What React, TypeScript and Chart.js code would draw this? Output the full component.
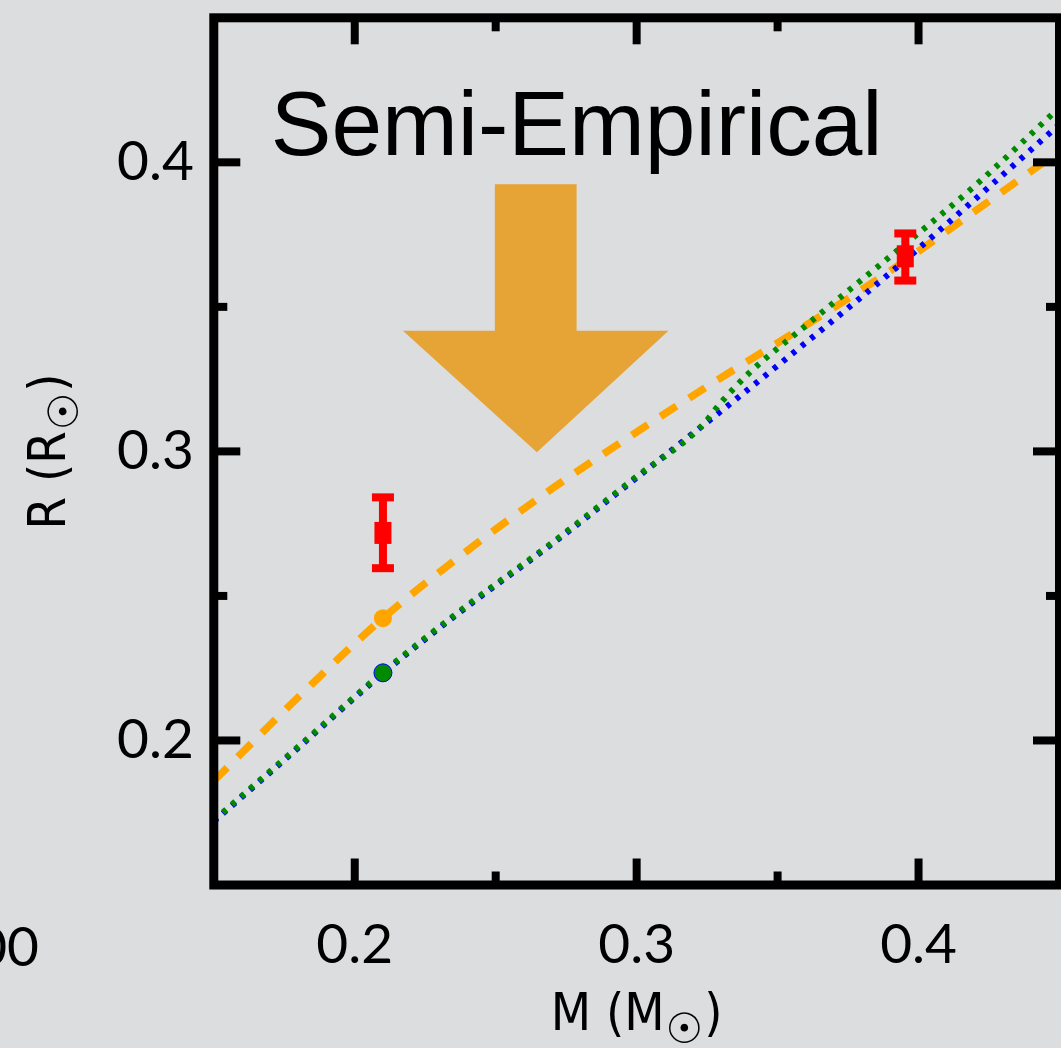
import React, { useEffect, useRef } from "react";
import { Chart, registerables } from "chart.js";

Chart.register(...registerables);

// ---- axis ranges & ticks ----
const massRange = [0.15, 0.45];
const radiusRange = [0.15, 0.45];
const xMajorTicks = [0.2, 0.3, 0.4];
const xMinorTicks = [0.25, 0.35];
const yMajorTicks = [0.2, 0.3, 0.4];
const yMinorTicks = [0.25, 0.35];

// ---- model curves ----
const orangeMass = [0.15, 0.18, 0.21, 0.24, 0.27, 0.30, 0.33, 0.36, 0.39, 0.42, 0.45];
const orangeRadius = [0.1860, 0.2150, 0.2423, 0.2657, 0.2871, 0.3067, 0.3255, 0.3436, 0.3625, 0.3831, 0.4039];

const blueMass = [0.15, 0.18, 0.21, 0.24, 0.27, 0.30, 0.33, 0.36, 0.39, 0.42, 0.45];
const blueRadius = [0.1720, 0.1975, 0.2232, 0.2464, 0.2680, 0.2909, 0.3140, 0.3376, 0.3618, 0.3872, 0.4131];

const greenMass = [0.15, 0.18, 0.21, 0.24, 0.27, 0.30, 0.3225, 0.33, 0.34, 0.36, 0.39, 0.42, 0.45];
const greenRadius = [0.1724, 0.1979, 0.2236, 0.2468, 0.2684, 0.2913, 0.3082, 0.3170, 0.3272, 0.3435, 0.3675, 0.3919, 0.4190];

// ---- model points ----
const modelPointMass = [0.21];
const orangePointRadius = [0.2423];
const greenPointRadius = [0.2234];

// ---- observed points with error bars ----
const obsMass = [0.21, 0.3953];
const obsRadius = [0.2718, 0.3675];
const obsErrUp = [0.0123, 0.0079];
const obsErrDown = [0.0122, 0.0084];

// ---- big arrow (data coordinates) ----
const arrowMass = [0.2497, 0.2787, 0.2787, 0.3113, 0.2646, 0.2171, 0.2497];
const arrowRadius = [0.3924, 0.3924, 0.3417, 0.3417, 0.2997, 0.3417, 0.3417];

// ---- texts ----
const titleText = "Semi-Empirical";
const titleMass = 0.2787;
const titleRadius = 0.4024;
const xTitleParts = ["M (M", "\u2609", ")"];
const yTitleParts = ["R (R", "\u2609", ")"];
const strayLabel = "00";

const BG = "rgb(220,221,223)";
const TICK_FONT = 'Lato, "DejaVu Sans", sans-serif';
const TITLE_FONT = '"Liberation Sans Narrow", "DejaVu Sans Condensed", Lato, sans-serif';

function drawAxisTitle(ctx: CanvasRenderingContext2D, parts: string[], cx: number, baseline: number) {
  const mainFont = `52px ${TITLE_FONT}`;
  const sunFont = `42px "DejaVu Sans", sans-serif`;
  ctx.font = mainFont;
  const w0 = ctx.measureText(parts[0]).width;
  const w2 = ctx.measureText(parts[2]).width;
  ctx.font = sunFont;
  const w1 = ctx.measureText(parts[1]).width;
  const total = w0 + w1 + w2 + 2;
  let x = cx - total / 2;
  ctx.textAlign = "left";
  ctx.textBaseline = "alphabetic";
  ctx.fillStyle = "#000";
  ctx.font = mainFont;
  ctx.fillText(parts[0], x, baseline);
  x += w0 + 1;
  ctx.font = sunFont;
  ctx.fillText(parts[1], x, baseline + 13);
  x += w1 + 1;
  ctx.font = mainFont;
  ctx.fillText(parts[2], x, baseline);
}

const decorPlugin = {
  id: "decor",
  beforeDraw(chart: any) {
    const ctx = chart.ctx;
    ctx.save();
    ctx.fillStyle = BG;
    ctx.fillRect(0, 0, chart.width, chart.height);
    ctx.restore();
  },
  beforeDatasetsDraw(chart: any) {
    const ctx = chart.ctx;
    const xs = chart.scales.x;
    const ys = chart.scales.y;
    ctx.save();
    ctx.fillStyle = "rgb(230,164,54)";
    ctx.beginPath();
    arrowMass.forEach((m, i) => {
      const px = xs.getPixelForValue(m);
      const py = ys.getPixelForValue(arrowRadius[i]);
      if (i === 0) ctx.moveTo(px, py);
      else ctx.lineTo(px, py);
    });
    ctx.closePath();
    ctx.fill();
    ctx.restore();
  },
  afterDatasetsDraw(chart: any) {
    const ctx = chart.ctx;
    const xs = chart.scales.x;
    const ys = chart.scales.y;
    const a = chart.chartArea;
    ctx.save();
    // error bars
    ctx.fillStyle = "#ff0000";
    obsMass.forEach((m, i) => {
      const px = xs.getPixelForValue(m);
      const pc = ys.getPixelForValue(obsRadius[i]);
      const pt = ys.getPixelForValue(obsRadius[i] + obsErrUp[i]);
      const pb = ys.getPixelForValue(obsRadius[i] - obsErrDown[i]);
      ctx.fillRect(px - 4, pt, 8, pb - pt);
      ctx.fillRect(px - 11, pt - 4, 22, 8);
      ctx.fillRect(px - 11, pb - 4, 22, 8);
      ctx.fillRect(px - 8.5, pc - 11, 17, 22);
    });
    // frame
    ctx.strokeStyle = "#000";
    ctx.lineWidth = 9;
    ctx.strokeRect(a.left, a.top, a.right - a.left, a.bottom - a.top);
    // ticks
    ctx.lineWidth = 8;
    ctx.lineCap = "butt";
    const tick = (x1: number, y1: number, x2: number, y2: number) => {
      ctx.beginPath();
      ctx.moveTo(x1, y1);
      ctx.lineTo(x2, y2);
      ctx.stroke();
    };
    const xt = (vals: number[], len: number) =>
      vals.forEach((v) => {
        const px = xs.getPixelForValue(v);
        tick(px, a.bottom, px, a.bottom - 4.5 - len);
        tick(px, a.top, px, a.top + 4.5 + len);
      });
    const yt = (vals: number[], len: number) =>
      vals.forEach((v) => {
        const py = ys.getPixelForValue(v);
        tick(a.left, py, a.left + 4.5 + len, py);
        tick(a.right, py, a.right - 4.5 - len, py);
      });
    xt(xMajorTicks, 22);
    xt(xMinorTicks, 9);
    yt(yMajorTicks, 22);
    yt(yMinorTicks, 9);
    ctx.restore();
  },
  afterDraw(chart: any) {
    const ctx = chart.ctx;
    const xs = chart.scales.x;
    const ys = chart.scales.y;
    const a = chart.chartArea;
    ctx.save();
    // title inside plot
    ctx.fillStyle = "#000";
    ctx.font = '91px "Liberation Sans", Arial, sans-serif';
    ctx.textAlign = "center";
    ctx.textBaseline = "alphabetic";
    ctx.fillText(titleText, xs.getPixelForValue(titleMass), ys.getPixelForValue(titleRadius));
    // x axis title
    drawAxisTitle(ctx, xTitleParts, (a.left + a.right) / 2, 1030);
    // y axis title (rotated)
    ctx.save();
    ctx.translate(65, (a.top + a.bottom) / 2);
    ctx.rotate(-Math.PI / 2);
    drawAxisTitle(ctx, yTitleParts, 0, 0);
    ctx.restore();
    // stray label from neighbouring panel
    ctx.font = `55px ${TICK_FONT}`;
    ctx.textAlign = "right";
    ctx.textBaseline = "alphabetic";
    ctx.fillStyle = "#000";
    ctx.fillText(strayLabel, 39, 966);
    ctx.restore();
  },
};

export default function App() {
  const ref = useRef<HTMLCanvasElement | null>(null);
  useEffect(() => {
    document.body.style.margin = "0";
    document.body.style.background = BG;
    const canvas = ref.current;
    if (!canvas) return;
    const toPts = (xsArr: number[], ysArr: number[]) => xsArr.map((m, i) => ({ x: m, y: ysArr[i] }));
    const chart = new Chart(canvas, {
      type: "line",
      data: {
        datasets: [
          {
            label: "green point",
            data: toPts(modelPointMass, greenPointRadius),
            showLine: false,
            pointRadius: 9,
            pointBackgroundColor: "#008a00",
            pointBorderColor: "#0000ff",
            pointBorderWidth: 1,
            order: 0,
          },
          {
            label: "orange point",
            data: toPts(modelPointMass, orangePointRadius),
            showLine: false,
            pointRadius: 9,
            pointBackgroundColor: "#ffa500",
            pointBorderColor: "#ffa500",
            pointBorderWidth: 0,
            order: 1,
          },
          {
            label: "green model",
            data: toPts(greenMass, greenRadius),
            borderColor: "#008a00",
            borderWidth: 6,
            borderDash: [4.5, 7.5],
            pointRadius: 0,
            cubicInterpolationMode: "monotone",
            fill: false,
            order: 2,
          },
          {
            label: "blue model",
            data: toPts(blueMass, blueRadius),
            borderColor: "#0000ff",
            borderWidth: 6,
            borderDash: [4.5, 7.5],
            pointRadius: 0,
            cubicInterpolationMode: "monotone",
            fill: false,
            order: 3,
          },
          {
            label: "orange model",
            data: toPts(orangeMass, orangeRadius),
            borderColor: "#ffa500",
            borderWidth: 7.5,
            borderDash: [19, 15],
            pointRadius: 0,
            cubicInterpolationMode: "monotone",
            fill: false,
            order: 4,
          },
        ],
      },
      options: {
        animation: false,
        responsive: false,
        maintainAspectRatio: false,
        devicePixelRatio: 1,
        layout: { autoPadding: false, padding: { top: 17.8, right: 1.5, left: 0, bottom: 0 } },
        plugins: { legend: { display: false }, tooltip: { enabled: false }, title: { display: false } },
        scales: {
          x: {
            type: "linear",
            min: massRange[0],
            max: massRange[1],
            grid: { display: false, drawTicks: false },
            border: { display: false },
            ticks: {
              color: "#000",
              font: { family: TICK_FONT, size: 55 },
              padding: 27,
              maxRotation: 0,
              autoSkip: false,
              callback: (v: any) => Number(v).toFixed(1),
            },
            afterBuildTicks: (s: any) => {
              s.ticks = xMajorTicks.map((v) => ({ value: v }));
            },
            afterFit: (s: any) => {
              s.height = 163;
              s.paddingLeft = 0;
              s.paddingRight = 0;
              s.paddingTop = 0;
              s.paddingBottom = 0;
            },
          },
          y: {
            type: "linear",
            min: radiusRange[0],
            max: radiusRange[1],
            grid: { display: false, drawTicks: false },
            border: { display: false },
            ticks: {
              color: "#000",
              font: { family: TICK_FONT, size: 55 },
              padding: 20,
              autoSkip: false,
              callback: (v: any) => Number(v).toFixed(1),
            },
            afterBuildTicks: (s: any) => {
              s.ticks = yMajorTicks.map((v) => ({ value: v }));
            },
            afterFit: (s: any) => {
              s.width = 213.8;
              s.paddingLeft = 0;
              s.paddingRight = 0;
              s.paddingTop = 0;
              s.paddingBottom = 0;
            },
          },
        },
      },
      plugins: [decorPlugin],
    } as any);
    return () => chart.destroy();
  }, []);
  return (
    <div style={{ width: 1061, height: 1048, background: BG }}>
      <canvas ref={ref} width={1061} height={1048} style={{ display: "block" }} />
    </div>
  );
}
